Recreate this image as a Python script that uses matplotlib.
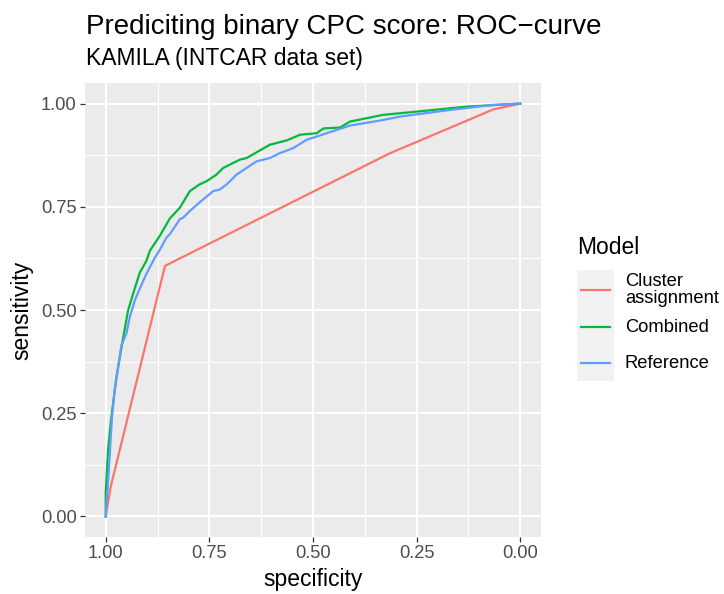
"""ROC curves for binary CPC score prediction (KAMILA, INTCAR data set), ggplot-like."""

import matplotlib
matplotlib.use("Agg")
import matplotlib.pyplot as plt
from matplotlib.lines import Line2D
from matplotlib.patches import Rectangle

plt.rcParams["font.family"] = ["Liberation Sans", "DejaVu Sans"]

# ─── Data ────────────────────────────────────────────────────────────────────

cluster_spec = [1.000, 0.988, 0.857, 0.314, 0.065, 0.000]
cluster_sens = [0.000, 0.072, 0.607, 0.880, 0.986, 1.000]

combined_spec = [1.000, 1.000, 0.9944, 0.9862, 0.9742, 0.9582, 0.9461, 0.9341,
                 0.9179, 0.9017, 0.8937, 0.8696, 0.8454, 0.8213, 0.7971, 0.7729,
                 0.7568, 0.7326, 0.7167, 0.6763, 0.6602, 0.6039, 0.5635, 0.5314,
                 0.4911, 0.4751, 0.4348, 0.4106, 0.3309, 0.2495, 0.1287, 0.000]
combined_sens = [0.000, 0.0578, 0.1614, 0.2417, 0.3381, 0.4313, 0.4988, 0.5390,
                 0.5904, 0.6193, 0.6434, 0.6795, 0.7217, 0.7477, 0.7880, 0.8048,
                 0.8120, 0.8282, 0.8441, 0.8643, 0.8682, 0.9005, 0.9108, 0.9246,
                 0.9284, 0.9398, 0.9422, 0.9566, 0.9728, 0.9807, 0.9928, 1.000]

reference_spec = [1.000, 0.9944, 0.9848, 0.9783, 0.9703, 0.9621, 0.9500, 0.9420,
                  0.9300, 0.9179, 0.9017, 0.8816, 0.8696, 0.8534, 0.8454, 0.8213,
                  0.8133, 0.7971, 0.7729, 0.7408, 0.7246, 0.7085, 0.6925, 0.6843,
                  0.6360, 0.6039, 0.5797, 0.5476, 0.5152, 0.4831, 0.4669, 0.4106,
                  0.3382, 0.2899, 0.1691, 0.0652, 0.000]
reference_sens = [0.000, 0.0819, 0.2417, 0.3060, 0.3590, 0.4145, 0.4434, 0.4827,
                  0.5229, 0.5518, 0.5880, 0.6265, 0.6458, 0.6754, 0.6836, 0.7198,
                  0.7236, 0.7398, 0.7614, 0.7880, 0.7920, 0.8041, 0.8200, 0.8282,
                  0.8602, 0.8682, 0.8802, 0.8923, 0.9125, 0.9229, 0.9284, 0.9470,
                  0.9590, 0.9687, 0.9848, 0.9969, 1.000]

models = ["Cluster\nassignment", "Combined", "Reference"]
colors = ["#F8766D", "#00BA38", "#619CFF"]
ticks = [0.00, 0.25, 0.50, 0.75, 1.00]
tick_labels = ["0.00", "0.25", "0.50", "0.75", "1.00"]

# ─── Figure ──────────────────────────────────────────────────────────────────

W, H = 724, 594
fig = plt.figure(figsize=(W / 100, H / 100), dpi=100)
ax = fig.add_axes([85 / W, 1 - 537 / H, (541 - 85) / W, (537 - 83) / H])

ax.set_facecolor("#EBEBEB")
for s in ax.spines.values():
    s.set_visible(False)

ax.set_xlim(1.05, -0.05)
ax.set_ylim(-0.05, 1.05)
ax.set_xticks(ticks)
ax.set_xticklabels(tick_labels)
ax.set_yticks(ticks)
ax.set_yticklabels(tick_labels)
ax.set_xticks([0.125, 0.375, 0.625, 0.875], minor=True)
ax.set_yticks([0.125, 0.375, 0.625, 0.875], minor=True)
ax.grid(which="major", color="white", linewidth=1.5)
ax.grid(which="minor", color="white", linewidth=0.75)
ax.set_axisbelow(True)
ax.tick_params(which="major", length=3.6, width=0.9, color="#333333",
               labelcolor="#4D4D4D", labelsize=13.2, pad=2.5)
ax.tick_params(which="minor", length=0)

series = [
    (cluster_spec, cluster_sens),
    (combined_spec, combined_sens),
    (reference_spec, reference_sens),
]
for (sx, sy), c in zip(series, colors):
    ax.plot(sx, sy, color=c, linewidth=1.6, solid_joinstyle="miter")

ax.set_xlabel("specificity", fontsize=16.5, labelpad=4)
ax.set_ylabel("sensitivity", fontsize=16.5, labelpad=5)

fig.text(86 / W, 1 - 27 / H, "Prediciting binary CPC score: ROC\u2212curve",
         fontsize=20, va="center", ha="left")
fig.text(86 / W, 1 - 58 / H, "KAMILA (INTCAR data set)",
         fontsize=16.5, va="center", ha="left")

# legend, drawn by hand to mimic ggplot guide
fig.text(577 / W, 1 - 248 / H, "Model", fontsize=16.5, va="center", ha="left")
fig.add_artist(Rectangle((577 / W, 1 - 381 / H), 37 / W, 111 / H,
                         transform=fig.transFigure, facecolor="#F2F2F2",
                         edgecolor="none"))
key_y = [290, 327, 363]
for label, c, y in zip(models, colors, key_y):
    fig.add_artist(Line2D([581 / W, 610 / W], [1 - y / H, 1 - y / H],
                          transform=fig.transFigure, color=c, linewidth=1.6))
    fig.text(625 / W, 1 - y / H, label, fontsize=13.2, va="center", ha="left",
             linespacing=0.95)

fig.savefig("out.png", dpi=100)
